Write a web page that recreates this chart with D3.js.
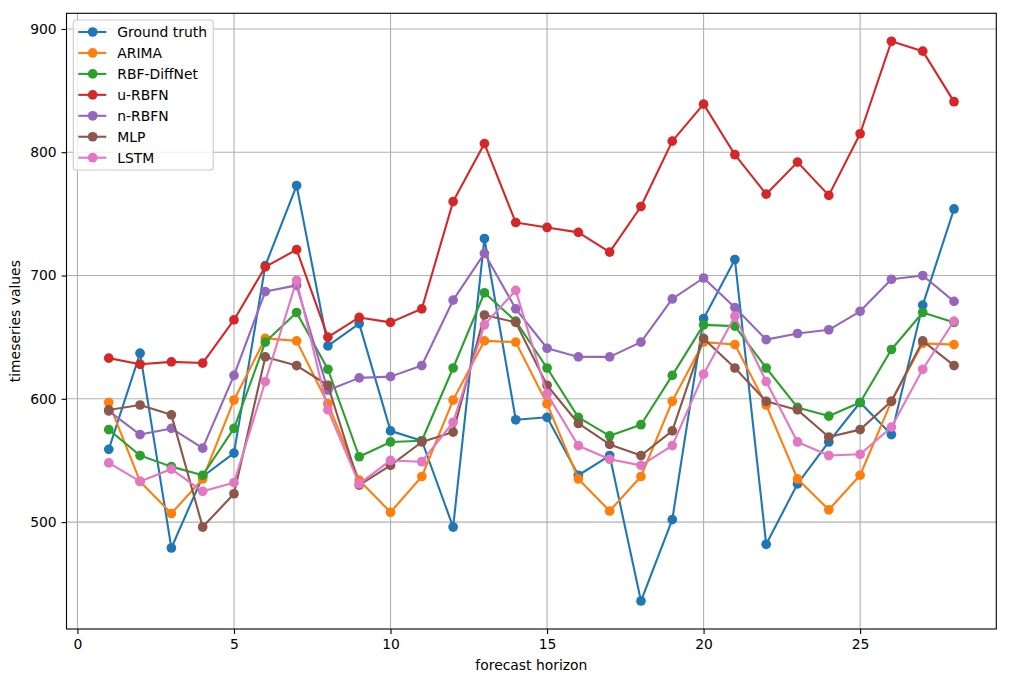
<!DOCTYPE html>
<html>
<head>
<meta charset="utf-8">
<script src="https://cdn.jsdelivr.net/npm/d3@7"></script>
<style>
    body { margin: 0; background: #fff; }
    text { font-family: "DejaVu Sans", sans-serif; fill: #000; }
    .grid line { stroke: #b0b0b0; stroke-width: 1.1; }
    .axis path, .axis line { stroke: #000; stroke-width: 1.1; }
    .axis text { font-size: 13.9px; }
</style>
</head>
<body>
<div id="chart"></div>
<script>
// forecast steps
var horizon = d3.range(1, 29);

var seriesNames = ["Ground truth", "ARIMA", "RBF-DiffNet", "u-RBFN", "n-RBFN", "MLP", "LSTM"];

var groundTruth = [559, 637, 479, 537, 556, 708, 773, 643, 661, 574, 566, 496, 730, 583,
    585, 538, 554, 436, 502, 665, 713, 482, 531, 565, 597, 571, 676, 754];
var arima = [597, 533, 507, 535, 599, 649, 647, 596, 534, 508, 537, 599, 647, 646,
    596, 535, 509, 537, 598, 646, 644, 595, 535, 510, 538, 598, 645, 644];
var rbfDiffNet = [575, 554, 545, 538, 576, 646, 670, 624, 553, 565, 566, 625, 686, 663,
    625, 585, 570, 579, 619, 660, 659, 625, 593, 586, 597, 640, 670, 662];
var uRBFN = [633, 628, 630, 629, 664, 707, 721, 650, 666, 662, 673, 760, 807, 743,
    739, 735, 719, 756, 809, 839, 798, 766, 792, 765, 815, 890, 882, 841];
var nRBFN = [590, 571, 576, 560, 619, 687, 692, 607, 617, 618, 627, 680, 718, 673,
    641, 634, 634, 646, 681, 698, 674, 648, 653, 656, 671, 697, 700, 679];
var mlp = [591, 595, 587, 496, 523, 634, 627, 611, 530, 546, 565, 573, 668, 662,
    611, 580, 563, 554, 574, 649, 625, 598, 591, 569, 575, 598, 647, 627];
var lstm = [548, 533, 543, 525, 532, 614, 696, 591, 531, 550, 549, 581, 660, 688,
    604, 562, 551, 546, 562, 620, 667, 614, 565, 554, 555, 577, 624, 663];

var xTicks = [0, 5, 10, 15, 20, 25];
var yTicks = [500, 600, 700, 800, 900];

var colors = ["#1f77b4", "#ff7f0e", "#2ca02c", "#d62728", "#9467bd", "#8c564b", "#e377c2"];

/**
 * Constructor for the forecast comparison chart
 */
function ForecastChart(){
    var self = this;
    self.init();
};

/**
 * Sets up svg, plot group and scales
 */
ForecastChart.prototype.init = function(){
    var self = this;
    self.margin = {top: 13.3, right: 12.7, bottom: 53, left: 66.5};
    self.svgWidth = 1009;
    self.svgHeight = 682;
    self.width = self.svgWidth - self.margin.left - self.margin.right;
    self.height = self.svgHeight - self.margin.top - self.margin.bottom;

    self.svg = d3.select("#chart").append("svg")
        .attr("width", self.svgWidth)
        .attr("height", self.svgHeight);

    self.plot = self.svg.append("g")
        .attr("transform", "translate(" + self.margin.left + "," + self.margin.top + ")");

    // matplotlib style 5% padding around the data
    var allValues = [].concat(groundTruth, arima, rbfDiffNet, uRBFN, nRBFN, mlp, lstm);
    var xPad = (d3.max(horizon) - d3.min(horizon)) * 0.05;
    var yMin = d3.min(allValues), yMax = d3.max(allValues);
    var yPad = (yMax - yMin) * 0.05;

    self.xScale = d3.scaleLinear()
        .domain([d3.min(horizon) - xPad, d3.max(horizon) + xPad])
        .range([0, self.width]);
    self.yScale = d3.scaleLinear()
        .domain([yMin - yPad, yMax + yPad])
        .range([self.height, 0]);
};

/**
 * Draws grid, axes, lines, markers and legend
 */
ForecastChart.prototype.update = function(seriesList){
    var self = this;
    var markerR = 4.85;

    //grid lines
    var grid = self.plot.append("g").attr("class", "grid");
    grid.selectAll("line.gx").data(xTicks).enter().append("line")
        .attr("x1", function(d){ return self.xScale(d); })
        .attr("x2", function(d){ return self.xScale(d); })
        .attr("y1", 0)
        .attr("y2", self.height);
    grid.selectAll("line.gy").data(yTicks).enter().append("line")
        .attr("class", "gy")
        .attr("x1", 0)
        .attr("x2", self.width)
        .attr("y1", function(d){ return self.yScale(d); })
        .attr("y2", function(d){ return self.yScale(d); });

    //one line + markers per series
    var line = d3.line()
        .x(function(d, i){ return self.xScale(horizon[i]); })
        .y(function(d){ return self.yScale(d); });

    var groups = self.plot.selectAll("g.series").data(seriesList).enter().append("g")
        .attr("class", "series");

    groups.append("path")
        .attr("d", function(d){ return line(d.values); })
        .attr("fill", "none")
        .attr("stroke", function(d){ return d.color; })
        .attr("stroke-width", 2.1)
        .attr("stroke-linejoin", "round")
        .attr("stroke-linecap", "square");

    groups.selectAll("circle").data(function(d){
        return d.values.map(function(v, i){ return {x: horizon[i], y: v, color: d.color}; });
    }).enter().append("circle")
        .attr("cx", function(d){ return self.xScale(d.x); })
        .attr("cy", function(d){ return self.yScale(d.y); })
        .attr("r", markerR)
        .attr("fill", function(d){ return d.color; });

    //axes
    var xAxis = d3.axisBottom(self.xScale).tickValues(xTicks).tickSize(4.9).tickPadding(4.9);
    var yAxis = d3.axisLeft(self.yScale).tickValues(yTicks).tickSize(4.9).tickPadding(4.9);

    self.plot.append("g").attr("class", "axis")
        .attr("transform", "translate(0," + self.height + ")")
        .call(xAxis)
        .select(".domain").remove();
    self.plot.append("g").attr("class", "axis")
        .call(yAxis)
        .select(".domain").remove();

    //frame
    self.plot.append("rect")
        .attr("width", self.width)
        .attr("height", self.height)
        .attr("fill", "none")
        .attr("stroke", "#000")
        .attr("stroke-width", 1.1);

    //axis titles
    self.svg.append("text")
        .attr("x", self.margin.left + self.width / 2)
        .attr("y", 670)
        .attr("text-anchor", "middle")
        .style("font-size", "13.9px")
        .text("forecast horizon");
    self.svg.append("text")
        .attr("transform", "translate(20," + (self.margin.top + self.height / 2) + ") rotate(-90)")
        .attr("text-anchor", "middle")
        .style("font-size", "13.9px")
        .text("timeseries values");

    //legend
    var legend = self.svg.append("g").attr("transform", "translate(73.3,20)");
    legend.append("rect")
        .attr("width", 140)
        .attr("height", 150)
        .attr("rx", 3)
        .attr("fill", "#fff")
        .attr("fill-opacity", 0.8)
        .attr("stroke", "#cccccc")
        .attr("stroke-width", 1.1);

    var items = legend.selectAll("g.item").data(seriesList).enter().append("g")
        .attr("class", "item")
        .attr("transform", function(d, i){ return "translate(0," + (12 + i * 20.95) + ")"; });
    items.append("line")
        .attr("x1", 5).attr("x2", 33)
        .attr("stroke", function(d){ return d.color; })
        .attr("stroke-width", 2.1);
    items.append("circle")
        .attr("cx", 19.4)
        .attr("r", markerR)
        .attr("fill", function(d){ return d.color; });
    items.append("text")
        .attr("x", 44)
        .attr("dy", "0.35em")
        .style("font-size", "13.9px")
        .text(function(d){ return d.name; });
};

var chart = new ForecastChart();
var valuesList = [groundTruth, arima, rbfDiffNet, uRBFN, nRBFN, mlp, lstm];
chart.update(seriesNames.map(function(name, i){
    return {name: name, values: valuesList[i], color: colors[i]};
}));
</script>
</body>
</html>
